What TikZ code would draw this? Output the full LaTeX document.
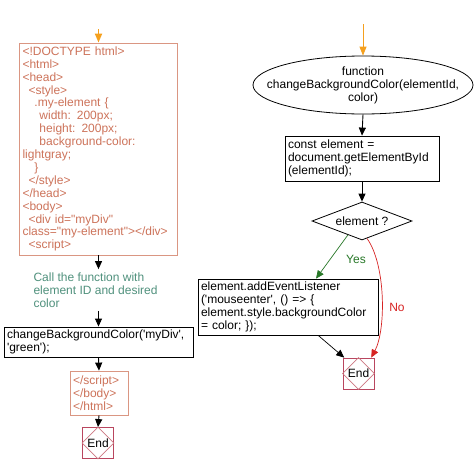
\documentclass[tikz,border=0pt]{standalone}
\usepackage{fontspec}
\newfontfamily\arial{Liberation Sans}
\usetikzlibrary{shapes.geometric,arrows.meta,calc}
\definecolor{htmlline}{RGB}{218,150,130}
\definecolor{htmltext}{RGB}{205,115,90}
\definecolor{tealc}{RGB}{80,145,125}
\definecolor{endline}{RGB}{185,70,95}
\definecolor{endin}{RGB}{205,120,130}
\definecolor{orangec}{RGB}{245,160,30}
\definecolor{greenc}{RGB}{40,120,40}
\definecolor{redc}{RGB}{215,35,35}
\begin{document}
\begin{tikzpicture}[x=1pt,y=-1pt,
  font=\arial\fontsize{12}{12.9}\selectfont,
  htmlbox/.style={draw=htmlline, line width=0.8pt, text=htmltext, align=left, inner sep=3pt, rectangle},
  codebox/.style={draw=black, line width=0.8pt, align=left, inner sep=3pt, rectangle},
  arr/.style={-{Triangle[length=8pt,width=7pt]}, line width=0.9pt},
  oarr/.style={-{Triangle[length=9pt,width=7pt]}, draw=orangec, fill=orangec},
  endnode/.style={draw=endline, line width=0.8pt, minimum size=31pt, inner sep=0pt, rectangle}]
\useasboundingbox[fill=white] (0,0) rectangle (474,474);

% left column
\node[htmlbox, text width=152pt, minimum height=212pt] (html) at (98.5,149) {%
<!DOCTYPE html>\\
<html>\\
<head>\\
\hspace*{6pt}<style>\\
\hspace*{12pt}.my-element \{\\
\hspace*{17pt}width: 200px;\\
\hspace*{17pt}height: 200px;\\
\hspace*{17pt}background-color:\\
lightgray;\\
\hspace*{12pt}\}\\
\hspace*{6pt}</style>\\
</head>\\
<body>\\
\hspace*{6pt}<div id="myDiv"\\
class="my-element"></div>\\
\hspace*{6pt}<script>};

\node[text=tealc, align=left, anchor=west] (calllbl) at (30,290) {Call the function with\\element ID and desired\\color};

\node[codebox, text width=183pt, minimum height=30pt] (change) at (98.5,342) {changeBackgroundColor('myDiv',\\'green');};

\node[htmlbox, text width=52pt, minimum height=44pt] (script) at (99,393) {</script>\\</body>\\</html>};

\node[endnode] (end1) at (98,443) {End};
\draw[endin, line width=0.6pt] (end1.north) -- (end1.east) -- (end1.south) -- (end1.west) -- cycle;

\coordinate (o1) at (98.5,29);
\draw[oarr, line width=1.8pt] (o1) -- (html.north);
\draw[arr] (html.south) -- (html.south |- calllbl.north);
\draw[arr] (calllbl.south -| change.north) -- (change.north);
\draw[arr] (change.south) -- (script.north);
\draw[arr] (script.south) -- (end1.north);

% right column
\node[draw, line width=0.8pt, ellipse, minimum width=220pt, minimum height=58pt, inner sep=0pt] (fn) at (363,85) {};
\node[align=center] (fntext) at (fn.center) {function\\changeBackgroundColor(elementId,\\color)};

\node[codebox, text width=148pt, minimum height=45pt] (const) at (362,158.5) {const element =\\document.getElementById\\(elementId);};

\node[draw, line width=0.8pt, diamond, minimum width=100pt, minimum height=38pt, inner sep=0pt] (dia) at (362,221) {};
\node (diatext) at (dia.center) {element ?};

\node[codebox, text width=174pt, minimum height=56pt] (add) at (288,307) {element.addEventListener\\('mouseenter', () => \{\\element.style.backgroundColor\\= color; \});};

\node[endnode] (end2) at (358.5,373.5) {End};
\draw[endin, line width=0.6pt] (end2.north) -- (end2.east) -- (end2.south) -- (end2.west) -- cycle;

\coordinate (o2) at (363,24);
\draw[oarr, line width=0.8pt] (o2) -- (fn.north);
\draw[arr] (fn.south) -- (const.north);
\draw[arr] (const.south) -- (dia.north);

\draw[greenc, -{Triangle[length=8pt,width=7pt]}, line width=0.7pt]
  ($(dia.south)!0.28!(dia.west)$) -- ($(add.north west)!0.655!(add.north east)$);
\node[text=greenc] (yes) at (356,259) {Yes};

\draw[redc, -{Triangle[length=8pt,width=7pt]}, line width=0.7pt]
  ($(dia.south)!0.1!(dia.east)$) .. controls (386,265) and (386,330) .. ($(end2.north west)!0.9!(end2.north east)$);
\node[text=redc] (no) at (397,307) {No};

\draw[arr, line width=0.7pt] ($(add.south west)!0.667!(add.south east)$) -- ($(end2.north west)!0.05!(end2.north east)$);
\end{tikzpicture}
\end{document}
